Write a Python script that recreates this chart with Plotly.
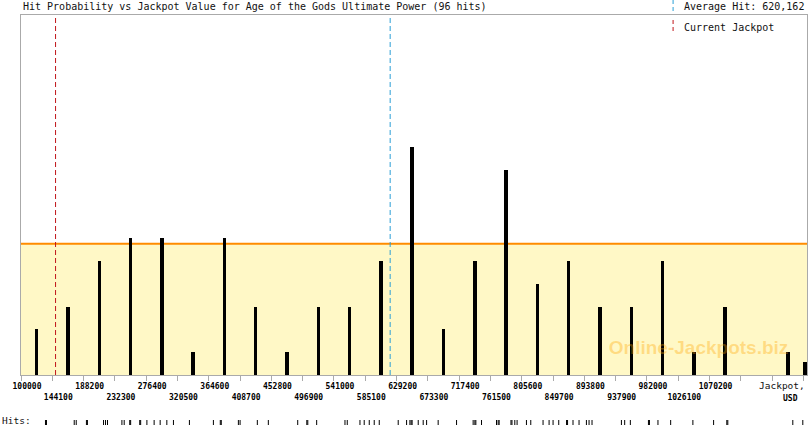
import plotly.graph_objects as go

# histogram bins (jackpot value, USD)
BIN_START = 100000
BIN_WIDTH = 44100
X_MAX = 1207500

# bar heights in hits per bin (last bin is cut off at X_MAX)
bin_hits = [2, 3, 5, 6, 6, 1, 6, 3, 1, 3, 3, 5, 10, 2, 5, 9, 4, 5, 3, 3, 5, 1, 3, 0, 1, 0.55]
avg_level = 5.77          # orange level line, in hits
y_top = 15.82             # top of the plot, in hits

average_hit = 620162
current_jackpot = 148700

# individual hits for the rug along the bottom
hits = [
    134500, 135900, 175000, 177800, 192200, 193600, 216300, 219100, 221900,
    242200, 245400, 253200, 254500, 267300, 268600, 277400, 287600, 296100,
    305500, 314800, 337300, 371100, 380800, 382200, 406300, 408700, 433000,
    448500, 489900, 502700, 504100, 516600, 556500, 559700, 577600, 583600,
    590700, 597700, 604800, 631500, 643300, 648000, 649700, 651100, 659700,
    666700, 671500, 687800, 713700, 737100, 739500, 740900, 748900, 770000,
    772300, 773700, 790400, 791800, 795800, 799000, 812200, 818300, 835600,
    844100, 849700, 857700, 868700, 870100, 877800, 886300, 896700, 900400,
    904600, 946000, 950600, 958600, 984100, 985500, 997500, 1015400, 1046700,
    1075900, 1094500, 1095900, 1187500, 1201600,
]

tick_vals = [BIN_START + k * BIN_WIDTH for k in range(26)]
tick_labels = [str(v) for v in tick_vals[:23]]

# pixel layout helpers (810x425 page)
W, H = 810, 425
L, R, T, B = 21, 2.5, 15, 0
PW, PH = W - L - R, H - T - B


def px(x):
    return (x - L) / PW


def py(y):
    return (H - B - y) / PH


bar_x = []
for k in range(len(bin_hits)):
    lo = BIN_START + k * BIN_WIDTH
    hi = min(lo + BIN_WIDTH, X_MAX)
    bar_x.append((lo + hi) / 2)

mono = "DejaVu Sans Mono"
fig = go.Figure()

# watermark
fig.add_trace(go.Scatter(
    x=[1054700], y=[1.14], mode="text", text=["Online-Jackpots.biz"],
    textfont=dict(family="Liberation Sans", size=19, color="rgba(255,165,0,0.35)", weight="bold"),
    hoverinfo="skip", showlegend=False,
))

fig.add_trace(go.Bar(
    x=bar_x, y=bin_hits, width=4900,
    marker=dict(color="#000000", line=dict(width=0)),
    showlegend=False,
    hovertemplate="%{x}<br>%{y}<extra></extra>",
))

# rug of hits
fig.add_trace(go.Scatter(
    x=hits, y=[0.5] * len(hits), xaxis="x2", yaxis="y2",
    mode="markers", cliponaxis=False,
    marker=dict(symbol="line-ns", size=5, line=dict(color="#000000", width=1)),
    showlegend=False, hoverinfo="x",
))

shapes = [
    # yellow band up to the average level, under the bars
    dict(type="rect", xref="x", yref="y", x0=BIN_START, x1=X_MAX, y0=0, y1=avg_level,
         fillcolor="#FFF8C6", line=dict(width=0), layer="below"),
    dict(type="line", xref="x", yref="y", x0=BIN_START, x1=X_MAX, y0=avg_level, y1=avg_level,
         line=dict(color="#FF8C00", width=2), layer="below"),
    dict(type="line", xref="x", yref="y domain", x0=current_jackpot, x1=current_jackpot,
         y0=0, y1=1, line=dict(color="#C0161B", width=1, dash="5px,3px")),
    dict(type="line", xref="x", yref="y domain", x0=average_hit, x1=average_hit,
         y0=0, y1=1, line=dict(color="#2A9FD6", width=1, dash="5px,3px")),
    # legend icons
    dict(type="line", xref="paper", yref="paper", x0=px(673.5), x1=px(673.5),
         y0=py(0), y1=py(13), line=dict(color="#2A9FD6", width=1, dash="4px,3px")),
    dict(type="line", xref="paper", yref="paper", x0=px(673.5), x1=px(673.5),
         y0=py(20), y1=py(33), line=dict(color="#C0161B", width=1, dash="4px,3px")),
]

annotations = [
    dict(text="Hit Probability vs Jackpot Value for Age of the Gods Ultimate Power (96 hits)",
         x=0, y=py(7), xref="paper", yref="paper", xanchor="left", yanchor="middle",
         showarrow=False, font=dict(family=mono, size=10, color="#111111")),
    dict(text="Average Hit: 620,162", x=px(682), y=py(7), xref="paper", yref="paper",
         xanchor="left", yanchor="middle", showarrow=False,
         font=dict(family=mono, size=10, color="#111111")),
    dict(text="Current Jackpot", x=px(682), y=py(27), xref="paper", yref="paper",
         xanchor="left", yanchor="middle", showarrow=False,
         font=dict(family=mono, size=10, color="#111111")),
    dict(text="Jackpot,", x=1, y=py(385), xref="paper", yref="paper",
         xanchor="right", yanchor="middle", showarrow=False,
         font=dict(family=mono, size=9.5, color="#111111")),
    dict(text="USD", x=px(790.5), y=py(398), xref="paper", yref="paper",
         xanchor="center", yanchor="middle", showarrow=False,
         font=dict(family=mono, size=8, color="#000000", weight="bold")),
    dict(text="Hits:", x=px(0), y=py(420), xref="paper", yref="paper",
         xanchor="left", yanchor="middle", showarrow=False,
         font=dict(family=mono, size=9.5, color="#111111")),
]

tick_font = dict(family=mono, size=8, color="#000000", weight="bold")

fig.update_layout(
    width=W, height=H,
    margin=dict(l=L, r=R, t=T, b=B, pad=0),
    paper_bgcolor="#FFFFFF", plot_bgcolor="#FFFFFF",
    bargap=0,
    shapes=shapes, annotations=annotations,
    xaxis=dict(
        range=[BIN_START, X_MAX], anchor="y",
        tickmode="array", tickvals=tick_vals,
        ticktext=[tick_labels[k] if k < len(tick_labels) and k % 2 == 0 else "" for k in range(len(tick_vals))],
        ticks="outside", ticklen=5, tickcolor="#AAAAAA", tickwidth=1,
        tickfont=tick_font, ticklabelshift=6, ticklabelstandoff=-2,
        showline=True, mirror=True, linecolor="#AAAAAA", linewidth=1,
        showgrid=False, zeroline=False, automargin=False, fixedrange=True,
    ),
    xaxis2=dict(
        matches="x", anchor="y2", side="top",
        tickmode="array",
        tickvals=[tick_vals[k] for k in range(1, len(tick_labels), 2)],
        ticktext=[tick_labels[k] for k in range(1, len(tick_labels), 2)],
        ticks="", tickfont=tick_font, ticklabelshift=6, ticklabelstandoff=19,
        showline=False, showgrid=False, zeroline=False, automargin=False,
    ),
    yaxis=dict(
        domain=[py(375), 1], range=[0, y_top],
        showticklabels=False, ticks="", showgrid=False, zeroline=False,
        showline=True, mirror=True, linecolor="#AAAAAA", linewidth=1,
        automargin=False, fixedrange=True,
    ),
    yaxis2=dict(
        domain=[0, py(422)], range=[0, 1], anchor="x2",
        showticklabels=False, ticks="", showgrid=False, zeroline=False,
        showline=False, automargin=False, fixedrange=True,
    ),
)

# the page body has an 8px default margin; drop it so the chart fills the window
fig.write_html("out.html", config={"displayModeBar": False},
               post_script="document.body.style.margin='0';")
